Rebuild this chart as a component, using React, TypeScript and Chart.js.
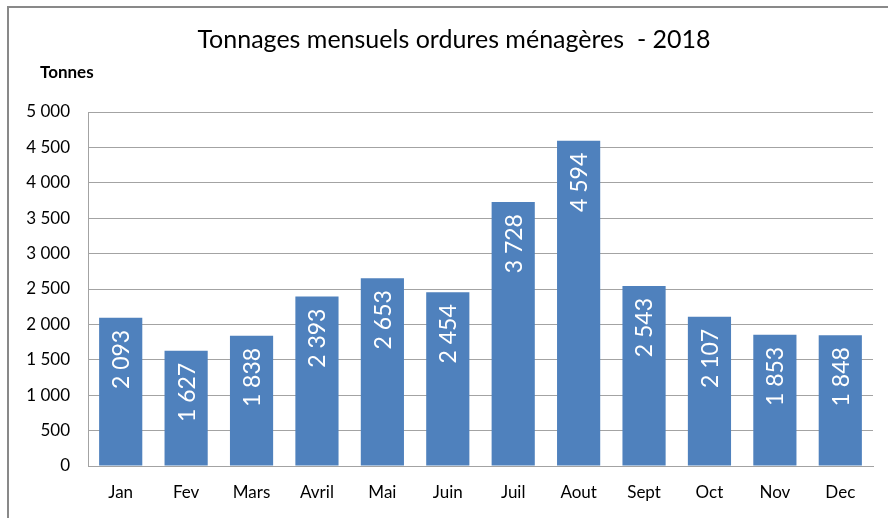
import React, { useEffect, useRef } from "react";
import { Chart, registerables } from "chart.js";

Chart.register(...registerables);

const TITLE = "Tonnages mensuels ordures ménagères  - 2018";
const Y_LABEL = "Tonnes";
const MONTHS = ["Jan", "Fev", "Mars", "Avril", "Mai", "Juin", "Juil", "Aout", "Sept", "Oct", "Nov", "Dec"];
const TONNAGES = [2093, 1627, 1838, 2393, 2653, 2454, 3728, 4594, 2543, 2107, 1853, 1848];
const Y_MIN = 0;
const Y_MAX = 5000;
const Y_STEP = 500;

const FONT = "Lato, 'Open Sans', sans-serif";
const BAR_COLOR = "#4F81BD";
const GRID_COLOR = "#A3A3A3";

function fmt(n: number): string {
  return Math.round(n).toString().replace(/\B(?=(\d{3})+(?!\d))/g, " ");
}

const decorPlugin = {
  id: "decor",
  beforeDraw(chart: any) {
    const ctx = chart.ctx;
    ctx.save();
    ctx.fillStyle = "#ffffff";
    ctx.fillRect(0, 0, chart.width, chart.height);
    ctx.fillStyle = "#898989";
    ctx.fillRect(7, 6, 2, chart.height);
    ctx.fillRect(7, 6, chart.width, 2);
    ctx.fillStyle = "#000000";
    ctx.textAlign = "center";
    ctx.textBaseline = "middle";
    ctx.font = `25px ${FONT}`;
    ctx.fillText(TITLE, 454, 40);
    ctx.textAlign = "left";
    ctx.font = `bold 17px ${FONT}`;
    ctx.fillText(Y_LABEL, 40, 73);
    ctx.restore();
  },
  afterDatasetsDraw(chart: any) {
    const ctx = chart.ctx;
    const meta = chart.getDatasetMeta(0);
    const data = chart.data.datasets[0].data as number[];
    ctx.save();
    ctx.fillStyle = "#ffffff";
    ctx.font = `23px ${FONT}`;
    ctx.textAlign = "right";
    ctx.textBaseline = "middle";
    meta.data.forEach((el: any, i: number) => {
      ctx.save();
      ctx.translate(el.x, el.y + 12);
      ctx.rotate(-Math.PI / 2);
      ctx.fillText(fmt(data[i]), 0, 1);
      ctx.restore();
    });
    ctx.restore();
  },
};

export default function App() {
  const ref = useRef<HTMLCanvasElement | null>(null);
  useEffect(() => {
    if (!ref.current) return;
    const chart = new Chart(ref.current, {
      type: "bar",
      data: {
        labels: MONTHS,
        datasets: [
          {
            data: TONNAGES,
            backgroundColor: BAR_COLOR,
            borderWidth: 0,
            categoryPercentage: 1,
            barPercentage: 0.66,
          },
        ],
      },
      options: {
        animation: false,
        responsive: false,
        devicePixelRatio: 1,
        layout: { padding: { top: 112, left: 0, right: 15, bottom: 12 } },
        plugins: {
          legend: { display: false },
          title: { display: false },
          tooltip: { enabled: false },
        },
        scales: {
          x: {
            afterFit: (s: any) => {
              s.height = 40;
            },
            grid: { display: false, drawTicks: false },
            border: { display: true, color: GRID_COLOR, width: 1 },
            ticks: { color: "#000", font: { family: FONT, size: 17 }, padding: 16 },
          },
          y: {
            min: Y_MIN,
            max: Y_MAX,
            afterFit: (s: any) => {
              s.width = 88;
            },
            grid: { color: GRID_COLOR, drawTicks: false, lineWidth: 1 },
            border: { display: true, color: GRID_COLOR, width: 1 },
            ticks: {
              stepSize: Y_STEP,
              color: "#000",
              font: { family: FONT, size: 17 },
              padding: 18,
              callback: (v: any) => fmt(Number(v)),
            },
          },
        },
      },
      plugins: [decorPlugin],
    });
    return () => chart.destroy();
  }, []);
  return (
    <div style={{ position: "fixed", left: 0, top: 0, width: 888, height: 518, background: "#fff" }}>
      <canvas ref={ref} width={888} height={518} style={{ width: 888, height: 518, display: "block" }} />
    </div>
  );
}
